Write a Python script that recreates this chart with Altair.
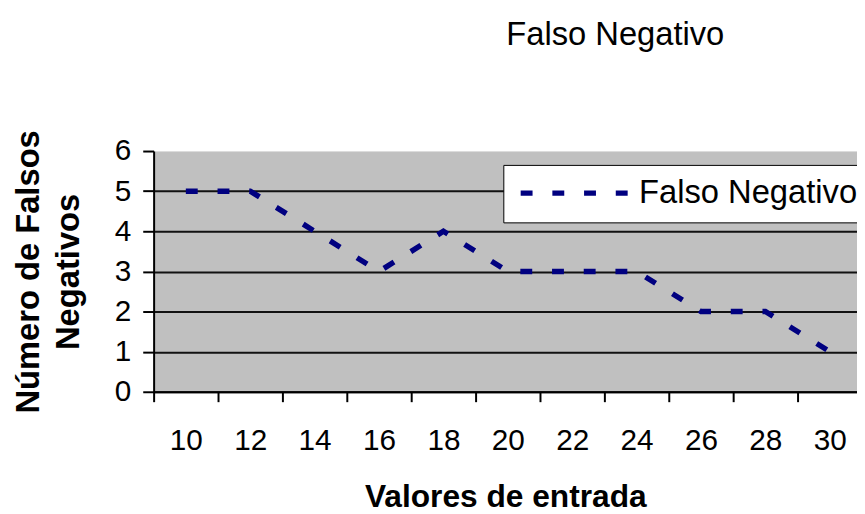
import altair as alt
import pandas as pd

# Data
x_vals = [10, 12, 14, 16, 18, 20, 22, 24, 26, 28, 30]
y_vals = [5, 5, 4, 3, 4, 3, 3, 3, 2, 2, 1]
serie_name = "Falso Negativo"
x_tick_values = list(range(9, 31))
y_tick_values = [0, 1, 2, 3, 4, 5, 6]

df = pd.DataFrame({"x": x_vals, "y": y_vals, "serie": [serie_name] * len(x_vals)})

FONT = "Liberation Sans"
W, H = 710, 243
PX_PER_UNIT = 32.5
DASH = [12, 20]

x_axis = alt.Axis(
    values=x_tick_values,
    labelExpr="datum.value % 2 == 0 ? datum.label : ''",
    tickColor={"condition": {"test": "datum.value % 2 == 0", "value": "transparent"}, "value": "black"},
    tickSize=10,
    tickWidth=2,
    domainColor="black",
    domainWidth=2,
    labelFont=FONT,
    labelFontSize=30,
    labelColor="black",
    labelPadding=24,
    labelFlush=False,
    labelOverlap=False,
    grid=False,
    title="Valores de entrada",
    titleFont=FONT,
    titleFontSize=32,
    titleFontWeight="bold",
    titleColor="black",
    titlePadding=27,
)

y_axis = alt.Axis(
    values=y_tick_values,
    tickSize=11,
    tickWidth=2,
    tickColor="black",
    domainColor="black",
    domainWidth=2,
    labelFont=FONT,
    labelFontSize=30,
    labelColor="black",
    labelPadding=12,
    labelFlush=False,
    grid=True,
    gridColor={"condition": {"test": "datum.value >= 6", "value": "transparent"}, "value": "#111111"},
    gridWidth=2,
    title=["Número de Falsos", "Negativos"],
    titleFont=FONT,
    titleFontSize=33,
    titleFontWeight="bold",
    titleColor="black",
    titleLineHeight=41,
    titlePadding=29,
)

chart = (
    alt.Chart(df)
    .mark_line(strokeWidth=5.5, strokeDash=DASH, clip=True)
    .encode(
        x=alt.X("x:Q", scale=alt.Scale(domain=[9, 9 + W / PX_PER_UNIT], nice=False, zero=False), axis=x_axis),
        y=alt.Y("y:Q", scale=alt.Scale(domain=[0, 6], nice=False), axis=y_axis),
        color=alt.Color(
            "serie:N",
            scale=alt.Scale(range=["#000080"]),
            legend=alt.Legend(
                title=None,
                orient="none",
                legendX=353,
                legendY=14,
                fillColor="white",
                strokeColor="black",
                padding=12,
                symbolType="M-1,0H9",
                symbolSize=484,
                symbolStrokeWidth=5.5,
                symbolDash=DASH,
                labelFont=FONT,
                labelFontSize=33,
                labelColor="black",
                labelOffset=92,
                labelLimit=500,
            ),
        ),
    )
    .properties(
        width=W,
        height=H,
        title=alt.TitleParams(
            text="Falso Negativo",
            font=FONT,
            fontSize=33,
            fontWeight="normal",
            color="black",
            anchor="middle",
            dx=111,
            baseline="bottom",
            offset=45,
        ),
        autosize=alt.AutoSizeParams(type="none"),
        padding={"left": 147, "top": 142, "right": 0, "bottom": 121},
        background="white",
    )
    .configure_view(fill="#c0c0c0", stroke="#dcdcdc", strokeWidth=1)
)

chart.save("out.html", embed_options={"renderer": "svg", "actions": False})
